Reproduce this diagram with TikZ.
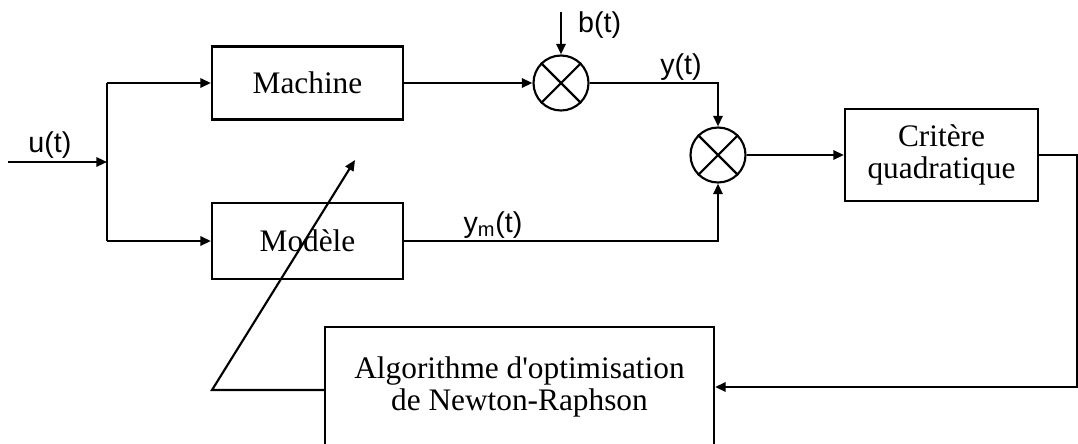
\documentclass[tikz,border=0pt]{standalone}
\usepackage{fontspec}
\setmainfont{Liberation Serif}
\newfontfamily\labfont{Liberation Sans}
\usetikzlibrary{arrows.meta}
\begin{document}
\begin{tikzpicture}[x=0.75pt,y=-0.75pt,line width=1.6pt,
  blk/.style={draw,rectangle,inner sep=0pt,align=center,font=\fontsize{23.5}{23.5}\selectfont},
  mult/.style={draw,circle,minimum size=55*0.75pt,inner sep=0pt},
  arr/.style={-{Triangle[length=8pt,width=7pt]}},
  lab/.style={inner sep=0pt,font=\labfont\fontsize{21.5}{24}\selectfont}]
\useasboundingbox (0,0) rectangle (1078,443);
\clip (0,0) rectangle (1078,443);
% blocks
\node[blk,minimum width=191*0.75pt,minimum height=73*0.75pt] (mach) at (307.5,83) {Machine};
\node[blk,minimum width=191*0.75pt,minimum height=76*0.75pt] (mod) at (307.5,241) {Modèle};
\node[blk,minimum width=193*0.75pt,minimum height=92*0.75pt] (crit) at (941.5,155) {Critère\\quadratique};
\node[blk,minimum width=389*0.75pt,minimum height=120*0.75pt] (algo) at (519.5,387) {Algorithme d\textquotesingle optimisation\\de Newton-Raphson};
% multipliers
\node[mult] (s1) at (561,83) {};
\draw (s1.north east) -- (s1.south west) (s1.north west) -- (s1.south east);
\node[mult] (s2) at (718,155) {};
\draw (s2.north east) -- (s2.south west) (s2.north west) -- (s2.south east);
% coordinates
\coordinate (uin) at (8,162);
\coordinate (j) at (107,162);
\coordinate (jt) at (107,83);
\coordinate (jb) at (107,241);
\coordinate (bin) at (561,12);
\coordinate (fbr) at (1077,155);
\coordinate (fbd) at (1077,387);
\coordinate (ao) at (212,390);
\coordinate (tip) at (355,160);
% connectors
\draw[arr] (uin) -- (j);
\draw (jt) -- (jb);
\draw[arr] (jt) -- (mach.west);
\draw[arr] (jb) -- (mod.west);
\draw[arr] (mach.east) -- (s1.west);
\draw[arr] (bin) -- (s1.north);
\draw[arr] (s1.east) -| (s2.north);
\draw[arr] (mod.east) -| (s2.south);
\draw[arr] (s2.east) -- (crit.west);
\draw[arr] (crit.east) -- (fbr) -- (fbd) -- (algo.east |- fbd);
\draw[arr] (algo.west |- ao) -- (ao) -- (tip);
% labels
\node[lab] (lu) at (50,145) {u(t)};
\node[lab,anchor=west] (lb) at (577,25) {b(t)};
\node[lab] (ly) at (681,67) {y(t)};
\node[lab] (lym) at (493,225) {y\textsubscript{m}(t)};
\end{tikzpicture}
\end{document}
